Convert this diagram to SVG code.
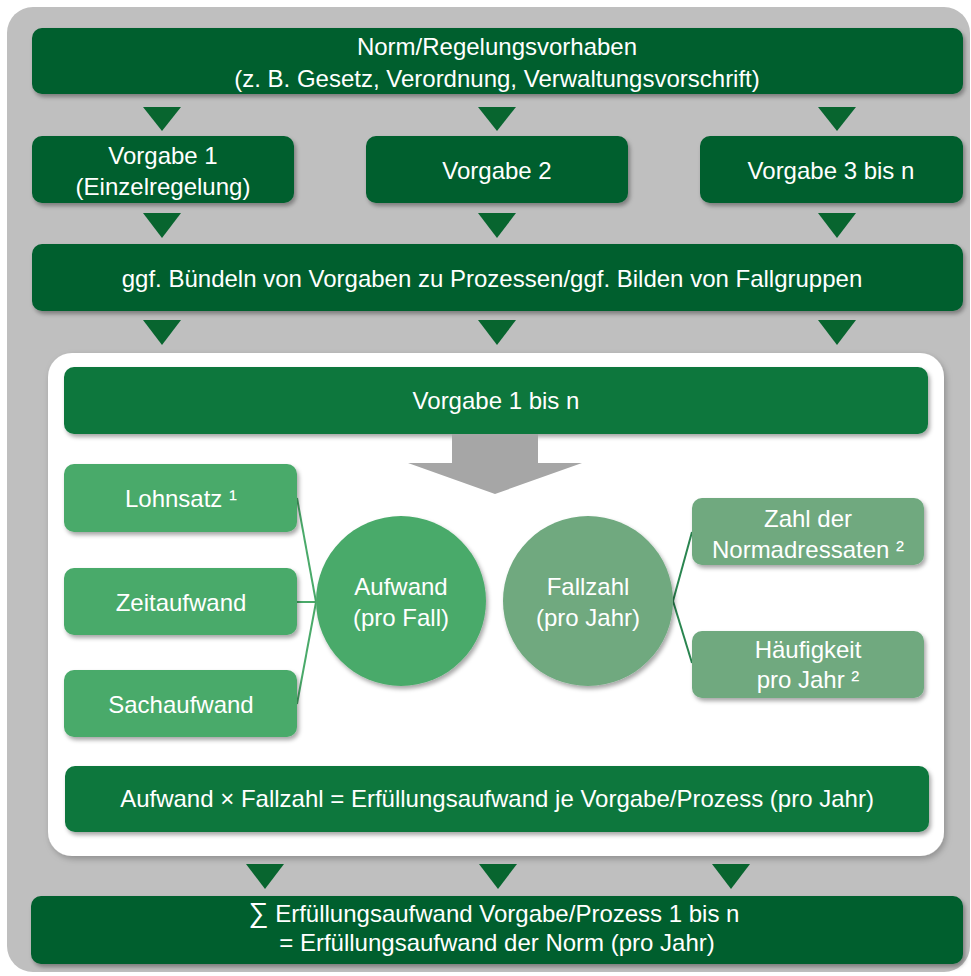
<svg xmlns="http://www.w3.org/2000/svg" width="971" height="976" viewBox="0 0 971 976">
<defs>
<filter id="sh" x="-10%" y="-20%" width="120%" height="150%">
<feDropShadow dx="2" dy="3" stdDeviation="2" flood-color="#000" flood-opacity="0.35"/>
</filter>
<filter id="shw" x="-5%" y="-5%" width="110%" height="110%">
<feDropShadow dx="2" dy="3" stdDeviation="3" flood-color="#000" flood-opacity="0.25"/>
</filter>
</defs>
<style>
text{font-family:"Liberation Sans",Arial,sans-serif;font-size:24px;fill:#ffffff;text-anchor:middle}
.dk{fill:#005e2e}
.md{fill:#0d773d}
.lg{fill:#4aaa6a}
.gg{fill:#6fa97f}
.tri{fill:#08652f}
.cl{stroke:#4aaa6a;stroke-width:2;fill:none}
.cr{stroke:#2a8550;stroke-width:2;fill:none}
</style>
<rect x="7" y="7" width="963" height="965" rx="26" fill="#bfbfbf"/>
<g id="triangles-top">
<polygon class="tri" points="143,107 181,107 162,131"/>
<polygon class="tri" points="478,107 516,107 497,131"/>
<polygon class="tri" points="818,107 856,107 837,131"/>
<polygon class="tri" points="143,213 181,213 162,238"/>
<polygon class="tri" points="478,213 516,213 497,238"/>
<polygon class="tri" points="818,213 856,213 837,238"/>
<polygon class="tri" points="143,320 181,320 162,345"/>
<polygon class="tri" points="478,320 516,320 497,345"/>
<polygon class="tri" points="818,320 856,320 837,345"/>
</g>
<g id="norm">
<rect class="dk" x="32" y="28" width="931" height="66" rx="10" filter="url(#sh)"/>
<text x="497" y="55">Norm/Regelungsvorhaben</text>
<text x="497" y="87">(z. B. Gesetz, Verordnung, Verwaltungsvorschrift)</text>
</g>
<g id="vorgabe1">
<rect class="dk" x="32" y="136" width="262" height="67" rx="10" filter="url(#sh)"/>
<text x="163" y="164">Vorgabe 1</text>
<text x="163" y="195">(Einzelregelung)</text>
</g>
<g id="vorgabe2">
<rect class="dk" x="366" y="136" width="262" height="67" rx="10" filter="url(#sh)"/>
<text x="497" y="179">Vorgabe 2</text>
</g>
<g id="vorgabe3">
<rect class="dk" x="700" y="136" width="263" height="67" rx="10" filter="url(#sh)"/>
<text x="831" y="179">Vorgabe 3 bis n</text>
</g>
<g id="buendeln">
<rect class="dk" x="32" y="244" width="931" height="67" rx="10" filter="url(#sh)"/>
<text x="492" y="287">ggf. Bündeln von Vorgaben zu Prozessen/ggf. Bilden von Fallgruppen</text>
</g>
<g id="inner">
<rect x="48" y="353" width="896" height="503" rx="24" fill="#ffffff" filter="url(#shw)"/>
</g>
<g id="vorgabe1n">
<rect class="md" x="64" y="367" width="864" height="67" rx="10" filter="url(#sh)"/>
<text x="496" y="409">Vorgabe 1 bis n</text>
</g>
<g id="gray-arrow">
<polygon fill="#a6a6a6" points="452,434 538,434 538,463 582,463 495,494 408,463 452,463"/>
</g>
<g id="connectors">
<line class="cl" x1="297" y1="498" x2="316" y2="602"/>
<line class="cl" x1="297" y1="602" x2="316" y2="602"/>
<line class="cl" x1="297" y1="704" x2="316" y2="602"/>
<line class="cr" x1="673" y1="601" x2="692" y2="532"/>
<line class="cr" x1="673" y1="601" x2="692" y2="663"/>
</g>
<g id="lohnsatz">
<rect class="lg" x="64" y="464" width="233" height="68" rx="10" filter="url(#sh)"/>
<text x="181" y="507">Lohnsatz ¹</text>
</g>
<g id="zeitaufwand">
<rect class="lg" x="64" y="568" width="233" height="67" rx="10" filter="url(#sh)"/>
<text x="181" y="611">Zeitaufwand</text>
</g>
<g id="sachaufwand">
<rect class="lg" x="64" y="670" width="233" height="67" rx="10" filter="url(#sh)"/>
<text x="181" y="713">Sachaufwand</text>
</g>
<g id="aufwand">
<circle class="lg" cx="401" cy="601" r="85" filter="url(#sh)"/>
<text x="401" y="595">Aufwand</text>
<text x="401" y="626">(pro Fall)</text>
</g>
<g id="fallzahl">
<circle class="gg" cx="588" cy="601" r="85" filter="url(#sh)"/>
<text x="588" y="595">Fallzahl</text>
<text x="588" y="626">(pro Jahr)</text>
</g>
<g id="normadressaten">
<rect class="gg" x="692" y="498" width="232" height="67" rx="10" filter="url(#sh)"/>
<text x="808" y="527">Zahl der</text>
<text x="808" y="558">Normadressaten ²</text>
</g>
<g id="haeufigkeit">
<rect class="gg" x="692" y="631" width="232" height="67" rx="10" filter="url(#sh)"/>
<text x="808" y="658">Häufigkeit</text>
<text x="808" y="688">pro Jahr ²</text>
</g>
<g id="formel">
<rect class="md" x="65" y="766" width="864" height="66" rx="10" filter="url(#sh)"/>
<text x="497" y="807">Aufwand × Fallzahl = Erfüllungsaufwand je Vorgabe/Prozess (pro Jahr)</text>
</g>
<g id="triangles-bottom">
<polygon class="tri" points="246,864 284,864 265,889"/>
<polygon class="tri" points="479,864 517,864 498,889"/>
<polygon class="tri" points="712,864 750,864 731,889"/>
</g>
<g id="summe">
<rect class="dk" x="31" y="896" width="932" height="68" rx="10" filter="url(#sh)"/>
<text x="494" y="922"><tspan font-size="28">∑</tspan> Erfüllungsaufwand Vorgabe/Prozess 1 bis n</text>
<text x="497" y="951">= Erfüllungsaufwand der Norm (pro Jahr)</text>
</g>
</svg>
